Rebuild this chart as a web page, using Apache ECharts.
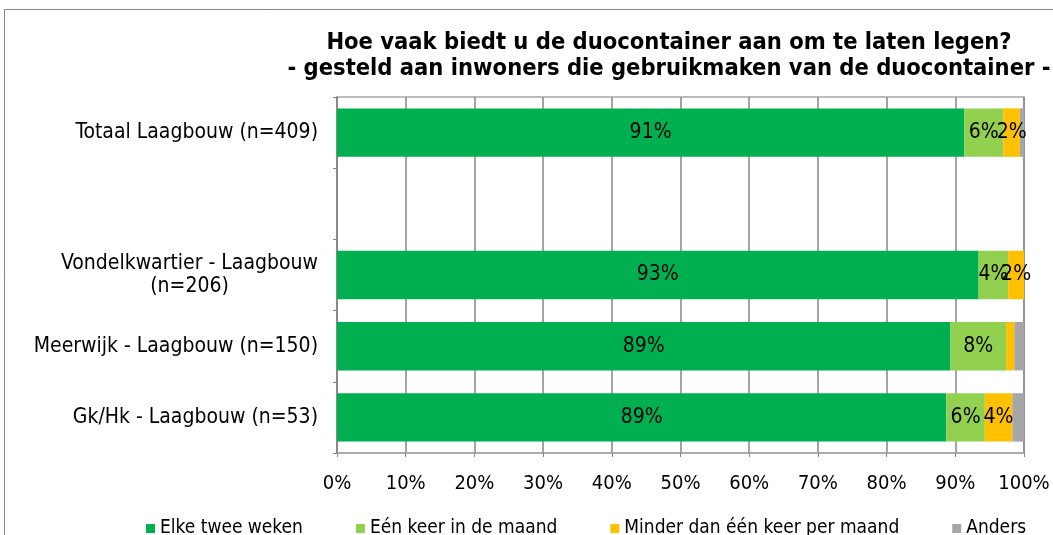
<!DOCTYPE html>
<html>
<head>
<meta charset="utf-8">
<script src="https://cdn.jsdelivr.net/npm/echarts@6/dist/echarts.min.js"></script>
<style>
  html, body { margin: 0; padding: 0; background: #fff; }
  #chart { width: 1053px; height: 535px; }
</style>
</head>
<body>
<div id="chart"></div>
<script>
const categories = [
  'Totaal Laagbouw (n=409)',
  '',
  'Vondelkwartier - Laagbouw\n(n=206)',
  'Meerwijk - Laagbouw (n=150)',
  'Gk/Hk - Laagbouw (n=53)'
];
const seriesNames = ['Elke twee weken', 'Eén keer in de maand', 'Minder dan één keer per maand', 'Anders'];
const elkeTweeWeken = [91.3, null, 93.4, 89.3, 88.7];
const eenKeerPerMaand = [5.7, null, 4.3, 8.1, 5.6];
const minderDanMaand = [2.4, null, 2.3, 1.2, 4.0];
const anders = [0.6, null, 0, 1.4, 1.7];
const colors = ['#00B050', '#92D050', '#FFC000', '#A6A6A6'];

const FONT = 'DejaVu Sans Condensed';
const chart = echarts.init(document.getElementById('chart'));

// width of the first line of the two-line label, so line two can be centred under it
const ctx = document.createElement('canvas').getContext('2d');
ctx.font = '21px "' + FONT + '"';
const vondelWidth = Math.ceil(ctx.measureText('Vondelkwartier - Laagbouw').width);

function makeSeries(name, data, color){
  return {
    name: name,
    type: 'bar',
    stack: 'total',
    data: data,
    barCategoryGap: '32%',
    itemStyle: { color: color },
    label: {
      show: true,
      position: 'inside',
      color: '#000',
      fontFamily: FONT,
      fontSize: 21,
      formatter: p => (p.value == null || p.value < 2) ? '' : Math.round(p.value) + '%'
    },
    labelLayout: { hideOverlap: false }
  };
}

chart.setOption({
  animation: false,
  textStyle: { fontFamily: FONT },
  title: {
    text: 'Hoe vaak biedt u de duocontainer aan om te laten legen?\n- gesteld aan inwoners die gebruikmaken van de duocontainer -',
    left: 664,
    top: 25,
    textAlign: 'center',
    textStyle: { fontFamily: FONT, fontSize: 23.5, fontWeight: 'bold', color: '#000', lineHeight: 26 }
  },
  graphic: [{
    type: 'rect',
    z: -10,
    shape: { x: 4.5, y: 9.5, width: 1200, height: 700 },
    style: { fill: 'none', stroke: '#868686', lineWidth: 1 }
  }],
  legend: {
    data: seriesNames,
    left: 146,
    top: 519,
    padding: 0,
    icon: 'rect',
    itemWidth: 9,
    itemHeight: 9,
    itemGap: 53,
    textStyle: { fontFamily: FONT, fontSize: 19, color: '#000' }
  },
  grid: {
    left: 337, right: 29, top: 97, bottom: 82,
    show: true, borderColor: '#A6A6A6', borderWidth: 1.5
  },
  xAxis: {
    type: 'value',
    min: 0, max: 100, interval: 10,
    axisLine: { show: true, lineStyle: { color: '#A6A6A6', width: 1.5 } },
    axisTick: { show: true, length: 4, lineStyle: { color: '#868686' } },
    axisLabel: { formatter: '{value}%', margin: 21, fontSize: 20, color: '#000', fontFamily: FONT },
    splitLine: { show: true, lineStyle: { color: '#868686', width: 1.5 } }
  },
  yAxis: {
    type: 'category',
    data: categories,
    inverse: true,
    axisLine: { show: true, lineStyle: { color: '#868686', width: 1.5 } },
    axisTick: { show: true, length: 4, lineStyle: { color: '#868686' } },
    axisLabel: {
      margin: 19,
      fontSize: 21,
      color: '#000',
      fontFamily: FONT,
      lineHeight: 23,
      formatter: v => v.indexOf('\n') >= 0 ? v.split('\n').map(s => '{c|' + s + '}').join('\n') : v,
      rich: { c: { width: vondelWidth, align: 'center', fontSize: 21, fontFamily: FONT, color: '#000', lineHeight: 23 } }
    }
  },
  series: [
    makeSeries(seriesNames[0], elkeTweeWeken, colors[0]),
    makeSeries(seriesNames[1], eenKeerPerMaand, colors[1]),
    makeSeries(seriesNames[2], minderDanMaand, colors[2]),
    makeSeries(seriesNames[3], anders, colors[3])
  ]
});
</script>
</body>
</html>
